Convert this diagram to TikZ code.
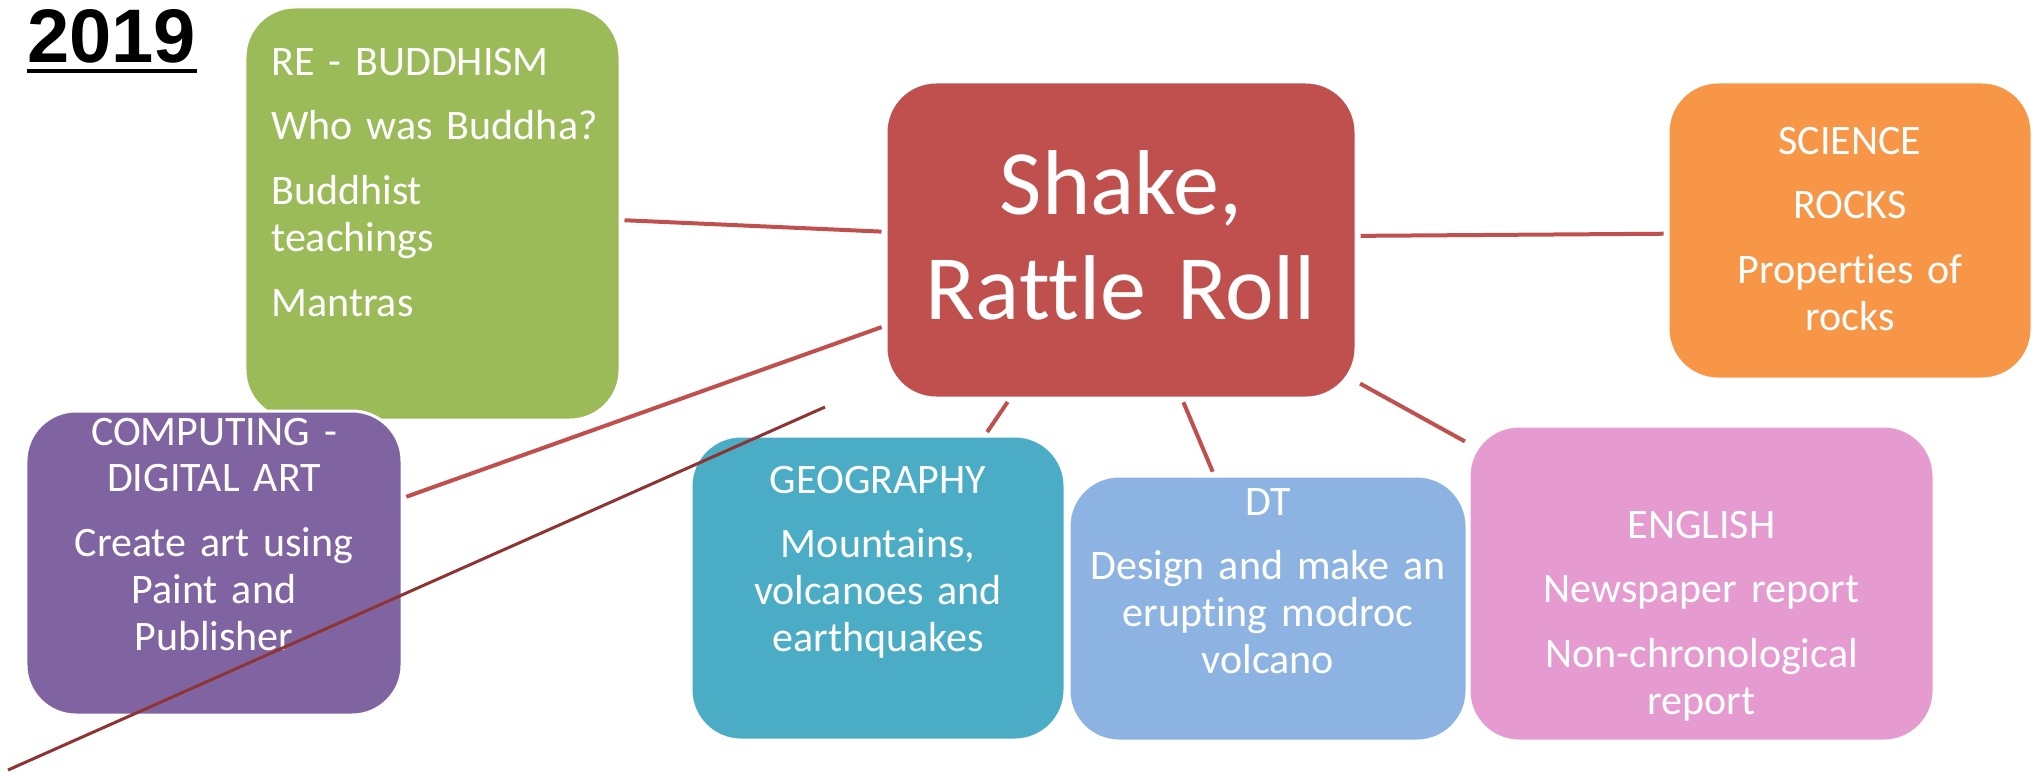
\documentclass[tikz,border=0pt]{standalone}
\usepackage{fontspec}
\setmainfont{Carlito}[Ligatures=NoCommon]
\newfontfamily\titlefont{Liberation Sans}
\usetikzlibrary{backgrounds}
\pgfdeclarelayer{edgelayer}
\pgfdeclarelayer{nodelayer}
\pgfsetlayers{edgelayer,nodelayer,main}
\definecolor{topicred}{HTML}{C0504D}
\definecolor{topicgreen}{HTML}{9BBB59}
\definecolor{topicorange}{HTML}{F79646}
\definecolor{topicpurple}{HTML}{8064A2}
\definecolor{topicteal}{HTML}{4BACC6}
\definecolor{topicblue}{HTML}{8DB3E2}
\definecolor{topicpink}{HTML}{E59BCF}
\definecolor{strayred}{HTML}{8E3432}
\tikzset{font=\fontsize{23.9pt}{26.7pt}\selectfont}
\tikzstyle{none}=[inner sep=0pt]
\tikzstyle{box}=[rectangle,rounded corners=1cm,draw=white,line width=1.7pt,inner sep=0pt]
\tikzstyle{boxtext}=[inner sep=0pt,text=white,text width=9cm,align=center,anchor=base]
\tikzstyle{link}=[draw=topicred,line width=0.08cm,shorten <=0.06cm,shorten >=0.06cm]

\begin{document}
\begin{tikzpicture}
	\useasboundingbox (0,0) rectangle (40.76,-15.44);
	\begin{pgfonlayer}{nodelayer}
		\node [style=box, fill=topicred, minimum width=9.4cm, minimum height=6.32cm] (0) at (22.42, -4.8) {};
		\node [style=box, fill=topicgreen, minimum width=7.5cm, minimum height=8.26cm] (1) at (8.65, -4.27) {};
		\node [style=box, fill=topicpurple, minimum width=7.52cm, minimum height=6.08cm] (2) at (4.28, -11.26) {};
		\node [style=box, fill=topicorange, minimum width=7.28cm, minimum height=5.94cm] (3) at (37, -4.61) {};
		\node [style=box, fill=topicteal, minimum width=7.48cm, minimum height=6.08cm] (4) at (17.56, -11.76) {};
		\node [style=box, fill=topicblue, minimum width=7.96cm, minimum height=5.3cm] (5) at (25.36, -12.17) {};
		\node [style=box, fill=topicpink, minimum width=9.3cm, minimum height=6.3cm] (6) at (34.03, -11.67) {};
		\node [style=boxtext, font=\fontsize{52.4pt}{59.8pt}\selectfont] (9) at (22.42, -4.28) {Shake,\\Rattle Roll};
		\node [style=boxtext, text width=7cm, align=left, anchor=base west] (10) at (5.42, -1.5) {RE - BUDDHISM\\[0.36cm]Who was Buddha?\\[0.36cm]Buddhist\\teachings\\[0.36cm]Mantras};
		\node [style=boxtext] (11) at (4.28, -8.9) {COMPUTING -\\DIGITAL ART\\[0.36cm]Create art using\\Paint and\\Publisher};
		\node [style=boxtext] (12) at (37, -3.08) {SCIENCE\\[0.36cm]ROCKS\\[0.36cm]Properties of\\rocks};
		\node [style=boxtext] (13) at (17.56, -9.86) {GEOGRAPHY\\[0.36cm]Mountains,\\volcanoes and\\earthquakes};
		\node [style=boxtext] (14) at (25.36, -10.3) {DT\\[0.36cm]Design and make an\\erupting modroc\\volcano};
		\node [style=boxtext] (15) at (34.03, -10.76) {ENGLISH\\[0.36cm]Newspaper report\\[0.36cm]Non-chronological\\report};
		\node [style=none, anchor=base west, font=\titlefont\bfseries\fontsize{43.2pt}{50pt}\selectfont] (16) at (0.54, -1.24) {2019};
	\end{pgfonlayer}
	\begin{pgfonlayer}{edgelayer}
		\draw [style=link] (1.358) -- (0.178);
		\draw [style=link] (0.1) -- (3.181);
		\draw [style=link] (0.200) -- (2.19);
		\draw [style=link] (0.235) -- (4.55);
		\draw [style=link] (0.291) -- (5.112);
		\draw [style=link] (0.329) -- (6.149);
	\end{pgfonlayer}
	\draw [line width=0.08cm] ([yshift=-0.18cm]16.base west) -- ([yshift=-0.18cm]16.base east);
	\coordinate (7) at (16.5, -8.14);
	\coordinate (8) at (0.16, -15.4);
	\draw [draw=strayred, line width=0.06cm] (7) to (8);
\end{tikzpicture}
\end{document}
